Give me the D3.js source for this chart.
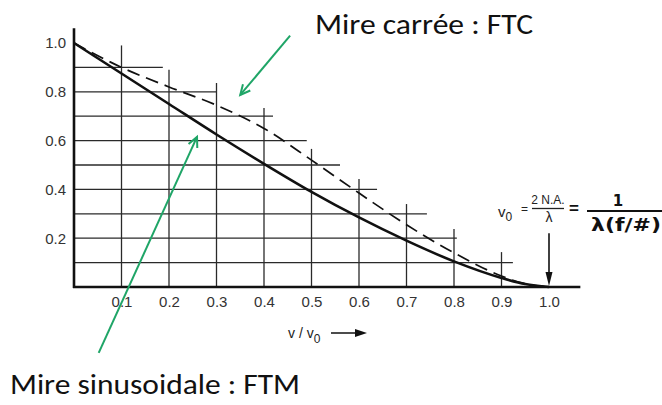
<!DOCTYPE html>
<html><head><meta charset="utf-8">
<script src="https://cdn.jsdelivr.net/npm/d3@7"></script>
<style>
html,body{margin:0;padding:0;background:#fff;}
svg{display:block;}
</style></head>
<body>
<svg id="chart" width="662" height="405"></svg>
<script>
// ---- data ----
const freq = [0, 0.1, 0.2, 0.3, 0.4, 0.5, 0.6, 0.7, 0.8, 0.9, 0.95, 1.0];
const ftm  = [1.0, 0.875, 0.75, 0.625, 0.505, 0.39, 0.285, 0.19, 0.105, 0.037, 0.012, 0];   // sinusoidal target (solid)
const ftc  = [1.0, 0.9, 0.82, 0.745, 0.65, 0.52, 0.385, 0.255, 0.14, 0.045, 0.013, 0];     // square target (dashed)

const xTicks = [0.1, 0.2, 0.3, 0.4, 0.5, 0.6, 0.7, 0.8, 0.9, 1.0];
const yTicks = [0.2, 0.4, 0.6, 0.8, 1.0];

// staircase grid: horizontal lines at each level end at hEnd; vertical lines at each freq rise to vTop
const gridLevels = [0.1, 0.2, 0.3, 0.4, 0.5, 0.6, 0.7, 0.8, 0.9];
const hEnd = [0.924, 0.806, 0.743, 0.638, 0.56, 0.49, 0.419, 0.30, 0.187];
const gridFreqs = [0.1, 0.2, 0.3, 0.4, 0.5, 0.6, 0.7, 0.8, 0.9];
const vTop = [0.99, 0.89, 0.836, 0.734, 0.566, 0.443, 0.34, 0.238, 0.143];

const axisExtent = {xMax: 1.066, yMax: 1.06};

// annotation arrows in data coordinates
const arrowFTC = {from: [0.455, 1.03], to: [0.35, 0.787]};
const arrowFTM = {from: [0.052, -0.27], to: [0.259, 0.615]};
const cutoffArrow = {from: [1.0, 0.22], to: [1.0, 0.0]};

// ---- scales ----
const svg = d3.select("#chart");
const x = d3.scaleLinear().domain([0, 1]).range([74, 549]);
const y = d3.scaleLinear().domain([0, 1]).range([287, 43]);
const ink = "#111";
const green = "#1fa567";

// grid
const g = svg.append("g");
g.selectAll("line.h").data(gridLevels).enter().append("line")
  .attr("x1", x(0)).attr("x2", (d,i) => x(hEnd[i]))
  .attr("y1", d => y(d)).attr("y2", d => y(d))
  .attr("stroke", "#2a2a2a").attr("stroke-width", 1.3);
g.selectAll("line.v").data(gridFreqs).enter().append("line")
  .attr("x1", d => x(d)).attr("x2", d => x(d))
  .attr("y1", y(0)).attr("y2", (d,i) => y(vTop[i]))
  .attr("stroke", "#2a2a2a").attr("stroke-width", 1.3);

// axes lines
svg.append("line").attr("x1", x(0)).attr("x2", x(0)).attr("y1", y(0)+1).attr("y2", y(axisExtent.yMax))
  .attr("stroke", ink).attr("stroke-width", 2.6);
svg.append("line").attr("x1", x(0)-1).attr("x2", x(axisExtent.xMax)).attr("y1", y(0)).attr("y2", y(0))
  .attr("stroke", ink).attr("stroke-width", 2.6);

// tick labels
const fmt = d3.format(".1f");
const ax = svg.append("g").attr("transform", `translate(0,${y(0)})`)
  .call(d3.axisBottom(x).tickValues(xTicks).tickSize(0).tickPadding(9).tickFormat(fmt));
ax.select(".domain").remove();
const ay = svg.append("g").attr("transform", `translate(${x(0)},0)`)
  .call(d3.axisLeft(y).tickValues(yTicks).tickSize(0).tickPadding(8).tickFormat(fmt));
ay.select(".domain").remove();
svg.selectAll(".tick text").attr("font-family", "Liberation Sans, Arial, sans-serif")
  .attr("font-size", 15).attr("fill", "#333");

// curves
const line = d3.line().x((d,i) => x(freq[i])).y(d => y(d)).curve(d3.curveMonotoneX);
svg.append("path").attr("d", line(ftc)).attr("fill", "none").attr("stroke", ink)
  .attr("stroke-width", 1.7).attr("stroke-dasharray", "13,7");
svg.append("path").attr("d", line(ftm)).attr("fill", "none").attr("stroke", ink)
  .attr("stroke-width", 2.6);

// x axis title
const ff = "Liberation Sans, Arial, sans-serif";
const xt = svg.append("text").attr("x", 288).attr("y", 338)
  .attr("font-family", ff).attr("font-size", 14).attr("fill", "#222");
xt.append("tspan").text("v / v");
xt.append("tspan").attr("dy", 5).attr("font-size", 12).text("0");
svg.append("line").attr("x1", 331).attr("x2", 358).attr("y1", 333).attr("y2", 333)
  .attr("stroke", ink).attr("stroke-width", 1.5);
svg.append("path").attr("d", "M355,329 L367,333 L355,337 Z").attr("fill", ink);

// cutoff arrow
svg.append("line").attr("x1", x(cutoffArrow.from[0])).attr("x2", x(cutoffArrow.to[0]))
  .attr("y1", y(cutoffArrow.from[1])).attr("y2", y(cutoffArrow.to[1]) - 10)
  .attr("stroke", ink).attr("stroke-width", 1.6);
svg.append("path").attr("d", `M${x(1)-3.5},${y(0)-15} L${x(1)},${y(0)-1} L${x(1)+3.5},${y(0)-15} Z`).attr("fill", ink);

// formula v0 = 2N.A./λ = 1/λ(f/#)
const v0 = svg.append("text").attr("x", 498).attr("y", 217).attr("font-family", ff).attr("font-size", 15).attr("fill", "#222");
v0.append("tspan").text("v");
v0.append("tspan").attr("dy", 4).attr("font-size", 12).text("0");
svg.append("text").attr("x", 521).attr("y", 213).attr("font-family", ff).attr("font-size", 12).attr("fill", "#222").text("=");
svg.append("text").attr("x", 548).attr("y", 204).attr("text-anchor", "middle").attr("font-family", ff).attr("font-size", 12).attr("fill", "#222").text("2 N.A.");
svg.append("line").attr("x1", 532).attr("x2", 564).attr("y1", 208.5).attr("y2", 208.5).attr("stroke", "#222").attr("stroke-width", 1.3);
svg.append("text").attr("x", 549).attr("y", 222).attr("text-anchor", "middle").attr("font-family", ff).attr("font-size", 14).attr("fill", "#222").text("λ");
svg.append("text").attr("x", 574).attr("y", 214).attr("text-anchor", "middle").attr("font-family", ff).attr("font-size", 17).attr("font-weight", "bold").attr("fill", "#111").text("=");
svg.append("text").attr("x", 618).attr("y", 206).attr("text-anchor", "middle").attr("font-family", "DejaVu Sans, sans-serif").attr("font-size", 15).attr("font-weight", "bold").attr("fill", "#111").text("1");
svg.append("line").attr("x1", 587).attr("x2", 662).attr("y1", 211).attr("y2", 211).attr("stroke", "#111").attr("stroke-width", 2.2);
svg.append("text").attr("x", 591).attr("y", 231).attr("font-family", "DejaVu Sans, sans-serif").attr("font-size", 18).attr("font-weight", "bold").attr("fill", "#111")
  .attr("textLength", 70).attr("lengthAdjust", "spacingAndGlyphs").text("λ(f/#)");

// green annotation arrows
function greenArrow(a) {
  const x1 = x(a.from[0]), y1 = y(a.from[1]), x2 = x(a.to[0]), y2 = y(a.to[1]);
  svg.append("line").attr("x1", x1).attr("y1", y1).attr("x2", x2).attr("y2", y2)
    .attr("stroke", green).attr("stroke-width", 2);
  const ang = Math.atan2(y2 - y1, x2 - x1), L = 11, sp = 0.45;
  const p1 = [x2 - L * Math.cos(ang - sp), y2 - L * Math.sin(ang - sp)];
  const p2 = [x2 - L * Math.cos(ang + sp), y2 - L * Math.sin(ang + sp)];
  svg.append("path").attr("d", `M${p1[0]},${p1[1]} L${x2},${y2} L${p2[0]},${p2[1]}`)
    .attr("fill", "none").attr("stroke", green).attr("stroke-width", 2).attr("stroke-linejoin", "miter");
}
greenArrow(arrowFTC);
greenArrow(arrowFTM);

// big annotation labels
const bf = "Carlito, Lato, 'Open Sans', sans-serif";
svg.append("text").attr("x", 315).attr("y", 34).attr("font-family", bf).attr("font-size", 29).attr("fill", "#111")
  .attr("textLength", 218).attr("lengthAdjust", "spacingAndGlyphs").text("Mire carrée : FTC");
svg.append("text").attr("x", 10).attr("y", 394).attr("font-family", bf).attr("font-size", 29).attr("fill", "#111")
  .attr("textLength", 290).attr("lengthAdjust", "spacingAndGlyphs").text("Mire sinusoidale : FTM");
</script>
</body></html>
